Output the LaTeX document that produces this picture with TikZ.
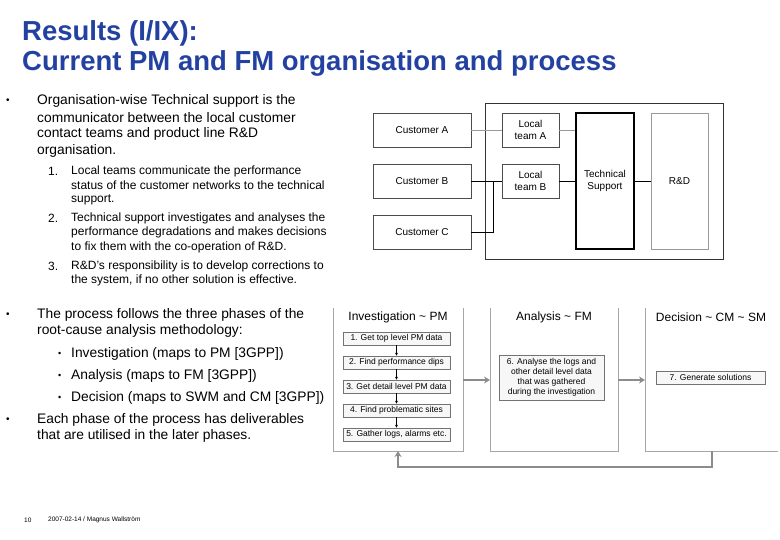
\documentclass[tikz,border=0pt]{standalone}
\usepackage{fontspec}
\setmainfont{Liberation Sans}
\usetikzlibrary{arrows.meta}
\definecolor{ttl}{RGB}{35,65,160}
\begin{document}
\begin{tikzpicture}[x=1pt,y=-1pt,
 tx/.style={anchor=west,inner sep=0,font=\fontsize{13.8}{15}\selectfont},
 sx/.style={anchor=west,inner sep=0,font=\fontsize{12}{13}\selectfont},
 bx/.style={draw=black!70,line width=0.6pt,inner sep=0,align=center,font=\fontsize{10}{12}\selectfont},
 st/.style={draw=black!55,line width=0.6pt,fill=black!3,inner sep=0,align=center,font=\fontsize{8.5}{10}\selectfont},
 pan/.style={draw=black!35,line width=1pt},
 garr/.style={draw=black!45,line width=2.5pt,-{Stealth[length=6pt,width=7pt]}}]
\useasboundingbox (0,0) rectangle (780,540);
% title
\node[anchor=west,inner sep=0,text=ttl,font=\bfseries\fontsize{27.5}{30}\selectfont] (t1) at (22,33) {Results (I/IX):};
\node[anchor=west,inner sep=0,text=ttl,font=\bfseries\fontsize{27.5}{30}\selectfont] (t2) at (22,63) {Current PM and FM organisation and process};
% left text
\foreach \y in {101,315,420} \node[anchor=west,inner sep=0,font=\fontsize{10}{10}\selectfont] at (6,\y) {•};
\node[tx] at (37,101) {Organisation-wise Technical support is the};
\node[tx] at (37,118) {communicator between the local customer};
\node[tx] at (37,134) {contact teams and product line R\&D};
\node[tx] at (37,151) {organisation.};
\node[sx] at (48,171) {1.};
\node[sx] at (71,171) {Local teams communicate the performance};
\node[sx] at (71,185.5) {status of the customer networks to the technical};
\node[sx] at (71,200) {support.};
\node[sx] at (48,218) {2.};
\node[sx] at (71,218) {Technical support investigates and analyses the};
\node[sx] at (71,232.5) {performance degradations and makes decisions};
\node[sx] at (71,247) {to fix them with the co-operation of R\&D.};
\node[sx] at (48,266) {3.};
\node[sx] at (71,266) {R\&D's responsibility is to develop corrections to};
\node[sx] at (71,280.5) {the system, if no other solution is effective.};
\node[tx] at (37,315) {The process follows the three phases of the};
\node[tx] at (37,331) {root-cause analysis methodology:};
\foreach \y in {354,376,398} \node[anchor=west,inner sep=0,font=\fontsize{9}{9}\selectfont] at (58,\y) {•};
\node[tx] at (71,354) {Investigation (maps to PM [3GPP])};
\node[tx] at (71,376) {Analysis (maps to FM [3GPP])};
\node[tx] at (71,398) {Decision (maps to SWM and CM [3GPP])};
\node[tx] at (37,420) {Each phase of the process has deliverables};
\node[tx] at (37,436) {that are utilised in the later phases.};
\node[anchor=west,inner sep=0,font=\fontsize{6.5}{7}\selectfont] at (24,520) {10};
\node[anchor=west,inner sep=0,font=\fontsize{6.5}{7}\selectfont] at (48,520) {2007-02-14 / Magnus Wallström};
% top-right org diagram
\draw[black!80,line width=0.6pt] (485,103) rectangle (723,259);
\node[bx,minimum width=98pt,minimum height=34pt] (ca) at (422,130) {Customer A};
\node[bx,minimum width=98pt,minimum height=34pt] (cb) at (422,181) {Customer B};
\node[bx,minimum width=98pt,minimum height=34pt] (cc) at (422,232) {Customer C};
\node[bx,minimum width=57pt,minimum height=34pt] (la) at (530.5,130) {Local\\team A};
\node[bx,minimum width=57pt,minimum height=34pt] (lb) at (530.5,181) {Local\\team B};
\node[bx,draw=black,line width=1.6pt,minimum width=58pt,minimum height=136pt] (ts) at (605,181) {Technical\\Support};
\node[bx,draw=black!40,minimum width=57pt,minimum height=136pt] (rd) at (679.5,181) {R\&D};
\draw[black!40,line width=0.5pt] (ca) -- (la);
\draw[black!40,line width=0.5pt] (la.east) -- (la.east -| ts.west);
\draw[line width=0.6pt] (cb) -- (lb);
\coordinate (cj) at (493,181);
\draw[line width=0.6pt] (cc.east) -| (cj);
\draw[line width=0.6pt] (lb.east) -- (lb.east -| ts.west);
\draw[line width=0.6pt] (ts.east |- rd.west) -- (rd.west);
% bottom process diagram
\draw[pan] (333,308) -- (333,451) -- (463,451) -- (463,308);
\draw[pan] (490,308) -- (490,451) -- (618,451) -- (618,308);
\draw[pan] (645,308) -- (645,451) -- (778,451);
\node[font=\fontsize{12}{13}\selectfont] (h1) at (398,317) {Investigation \textasciitilde{} PM};
\node[font=\fontsize{12}{13}\selectfont] (h2) at (554,317) {Analysis \textasciitilde{} FM};
\node[font=\fontsize{12}{13}\selectfont] (h3) at (711,317) {Decision \textasciitilde{} CM \textasciitilde{} SM};
\node[st,minimum width=107pt,minimum height=13pt] (s1) at (396.5,338.5) {1. Get top level PM data};
\node[st,minimum width=107pt,minimum height=13pt] (s2) at (396.5,362.5) {2. Find performance dips};
\node[st,minimum width=107pt,minimum height=13pt] (s3) at (396.5,386.5) {3. Get detail level PM data};
\node[st,minimum width=107pt,minimum height=13pt] (s4) at (396.5,410.5) {4. Find problematic sites};
\node[st,minimum width=107pt,minimum height=13pt] (s5) at (396.5,434.5) {5. Gather logs, alarms etc.};
\foreach \a/\b in {s1/s2,s2/s3,s3/s4,s4/s5}
  \draw[line width=0.5pt,-{Stealth[length=3pt,width=3pt]}] (\a) -- (\b);
\node[st,minimum width=105pt,minimum height=45pt] (s6) at (551.5,377.5) {6. Analyse the logs and\\other detail level data\\that was gathered\\during the investigation};
\node[st,minimum width=109pt,minimum height=13pt] (s7) at (710.5,377.5) {7. Generate solutions};
\coordinate (p1e) at (463,380); \coordinate (p2w) at (490,380);
\coordinate (p2e) at (618,380); \coordinate (p3w) at (645,380);
\draw[garr] (p1e) -- (p2w);
\draw[garr] (p2e) -- (p3w);
\coordinate (fb1) at (712,451); \coordinate (fb2) at (398,451);
\draw[garr] (fb1) -- (712,467) -- (398,467) -- (fb2);
\end{tikzpicture}
\end{document}
